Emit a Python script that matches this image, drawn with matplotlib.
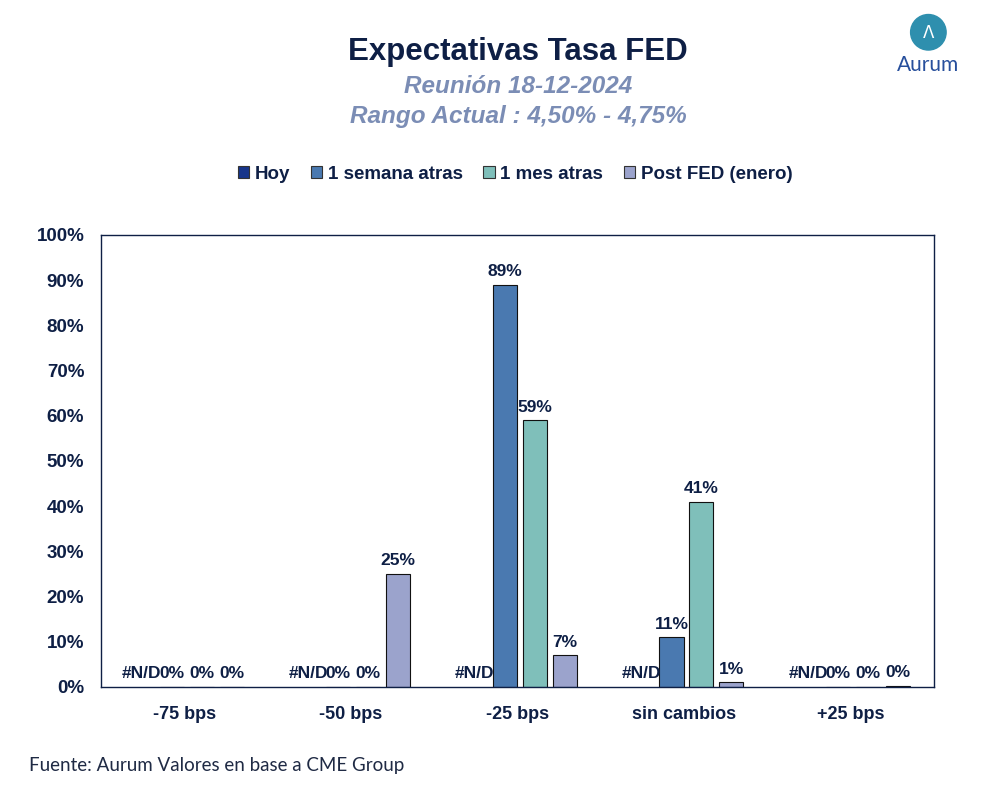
import numpy as np
import matplotlib.pyplot as plt
from matplotlib.patches import Circle, Patch

plt.rcParams['font.family'] = ['Liberation Sans', 'DejaVu Sans']

# datos (en %), "Hoy" sin datos -> #N/D
categorias = ["-75 bps", "-50 bps", "-25 bps", "sin cambios", "+25 bps"]
hoy = [np.nan, np.nan, np.nan, np.nan, np.nan]
semana = [0, 0, 89, 11, 0]
mes = [0, 0, 59, 41, 0]
post_fed = [0, 25, 7, 1, 0.3]
series_nombres = ["Hoy", "1 semana atras", "1 mes atras", "Post FED (enero)"]
colores = ["#17358A", "#4A79B0", "#7FBFBA", "#9BA3CC"]

navy = "#0E1F45"

fig = plt.figure(figsize=(9.85, 8.07), dpi=100)
ax = fig.add_axes([0.1025, 0.1487, 0.8455, 0.5601])

x = np.arange(len(categorias))
ancho = 0.145
offsets = [-0.255, -0.075, 0.105, 0.285]
series = [hoy, semana, mes, post_fed]

for vals, off, col, nom in zip(series, offsets, colores, series_nombres):
    v = np.array(vals, dtype=float)
    b = ax.bar(x + off, np.nan_to_num(v), ancho, color=col, edgecolor="#111111",
               linewidth=0.8, label=nom)
    # ocultar barras sin dato
    for rect, val in zip(b, v):
        if np.isnan(val):
            rect.set_visible(False)
        lbl = "#N/D" if np.isnan(val) else "%d%%" % round(val)
        h = 0 if np.isnan(val) else val
        ax.annotate(lbl, (rect.get_x() + rect.get_width() / 2, h),
                    xytext=(0, 4), textcoords="offset points",
                    ha="center", va="bottom", fontsize=12.5,
                    fontweight="bold", color=navy)

ax.set_ylim(0, 100)
ax.set_xlim(-0.5, len(categorias) - 0.5)
ax.set_yticks(np.arange(0, 101, 10))
ax.set_yticklabels(["%d%%" % t for t in range(0, 101, 10)])
ax.set_xticks(x)
ax.set_xticklabels(categorias)
ax.tick_params(length=0, labelsize=13.5, labelcolor=navy, pad=12)
ax.tick_params(axis="x", labelsize=13, pad=14)
for lab in ax.get_xticklabels() + ax.get_yticklabels():
    lab.set_fontweight("bold")
for s in ax.spines.values():
    s.set_color(navy)
    s.set_linewidth(1.0)

handles = [Patch(facecolor=c, edgecolor="#333333", linewidth=0.8) for c in colores]
leg = fig.legend(handles, series_nombres, loc="center", bbox_to_anchor=(0.523, 0.784),
                 ncol=4, frameon=False, fontsize=13.5, handlelength=0.6,
                 handleheight=0.6, handletextpad=0.3, columnspacing=1.1)
for t in leg.get_texts():
    t.set_fontweight("bold")
    t.set_color(navy)

# titulos
fig.text(0.526, 0.935, "Expectativas Tasa FED", ha="center", va="center",
         fontsize=22.5, fontweight="bold", color=navy)
fig.text(0.526, 0.893, "Reunión 18-12-2024", ha="center", va="center",
         fontsize=17.5, fontweight="bold", fontstyle="italic", color="#7B8DB5")
fig.text(0.526, 0.856, "Rango Actual : 4,50% - 4,75%", ha="center", va="center",
         fontsize=17.5, fontweight="bold", fontstyle="italic", color="#7B8DB5")

# fuente
fig.text(0.029, 0.052, "Fuente: Aurum Valores en base a CME Group", ha="left",
         va="center", fontsize=13.5, color="#1F2A44", family=["Lato", "DejaVu Sans"])

# logo
lax = fig.add_axes([0.92, 0.935, 0.045, 0.05])
lax.set_xlim(0, 1)
lax.set_ylim(0, 1)
lax.set_aspect("equal")
lax.axis("off")
lax.add_patch(Circle((0.5, 0.5), 0.44, color="#2E8FAE"))
lax.text(0.5, 0.47, "Λ", ha="center", va="center", fontsize=12, color="white",
         family=["DejaVu Sans"])
fig.text(0.942, 0.92, "Aurum", ha="center", va="center", fontsize=15,
         color="#274F9C", family=["Lato", "DejaVu Sans"])

plt.savefig("out.png", dpi=100)
